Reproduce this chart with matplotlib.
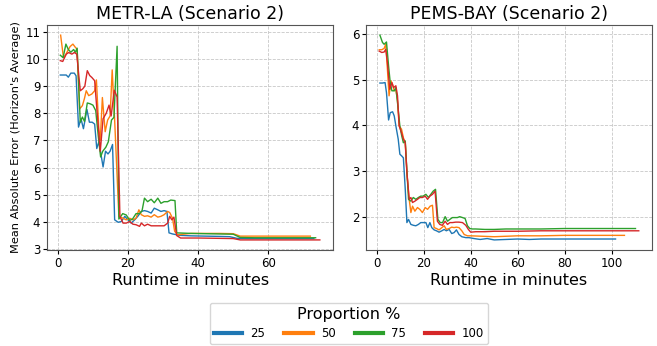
import matplotlib
matplotlib.use("Agg")
import matplotlib.pyplot as plt

props = ["25", "50", "75", "100"]
colors = ["#1f77b4", "#ff7f0e", "#2ca02c", "#d62728"]

# METR-LA runtime (min) / MAE per proportion
la_t25 = [0.7,1.5,2.4,3.0,3.7,4.7,5.2,5.9,6.6,7.3,8.3,9.0,9.8,10.5,11.1,11.7,12.9,13.6,14.3,14.9,15.6,16.2,17.2,18.1,19.1,20.0,20.9,21.9,22.8,23.8,24.7,25.6,26.6,27.5,28.5,29.4,30.3,31.1,31.7,32.7,34.6,38.0,42.0,46.0,49.0,51.0,55.0,60.0,65.0,70.0,73.0]
la_y25 = [9.41,9.41,9.41,9.33,9.48,9.48,9.38,7.49,7.80,7.43,8.14,7.67,7.67,7.60,6.70,6.95,6.02,6.60,6.50,6.60,6.85,4.07,3.98,4.01,4.20,4.07,3.95,4.07,4.20,4.38,4.41,4.38,4.32,4.50,4.44,4.38,4.41,4.38,3.59,3.55,3.50,3.48,3.47,3.46,3.45,3.39,3.38,3.38,3.38,3.38,3.38]
la_t50 = [0.8,1.6,2.2,2.8,3.5,4.3,5.0,5.5,6.2,7.0,7.6,8.1,8.8,9.7,10.5,11.0,11.7,12.1,12.7,13.5,14.2,14.9,15.5,16.2,17.4,18.6,19.5,20.5,21.4,22.3,23.1,23.8,24.7,25.6,26.6,27.5,28.5,29.4,30.3,31.3,31.9,32.7,33.3,34.1,38.0,42.0,46.0,50.0,52.0,56.0,60.0,65.0,70.0,72.0]
la_y50 = [10.88,10.06,10.15,10.30,10.46,10.55,10.43,10.36,8.16,8.28,8.55,8.83,8.65,8.71,8.83,9.23,7.40,7.00,8.58,7.32,7.75,7.90,9.60,7.75,4.20,4.13,4.07,4.13,4.07,4.13,4.44,4.26,4.20,4.22,4.17,4.26,4.17,4.20,4.26,4.38,4.34,4.13,3.65,3.52,3.57,3.57,3.57,3.56,3.47,3.47,3.47,3.47,3.47,3.47]
la_t75 = [0.7,1.5,2.3,3.0,3.7,4.5,5.0,5.5,6.4,7.0,7.6,8.4,9.2,10.0,10.8,11.5,12.2,12.8,13.7,14.4,15.3,16.0,16.9,17.4,18.5,19.5,20.5,21.3,22.3,23.3,24.0,24.7,25.6,26.6,27.5,28.5,29.4,30.3,31.3,32.2,33.4,33.9,38.0,42.0,46.0,50.0,52.0,56.0,60.0,65.0,70.0,73.5]
la_y75 = [10.14,10.05,10.55,10.35,10.25,10.35,10.25,10.40,7.67,7.86,7.70,8.38,8.35,8.30,8.10,7.20,6.39,6.60,6.75,6.95,7.75,7.85,10.47,4.10,4.30,4.25,4.05,4.10,4.30,4.30,4.40,4.87,4.74,4.83,4.70,4.87,4.68,4.74,4.74,4.80,4.78,3.59,3.57,3.56,3.55,3.54,3.42,3.41,3.41,3.41,3.41,3.41]
la_t100 = [0.7,1.4,2.4,3.1,4.0,4.7,5.4,6.4,7.1,7.7,8.4,9.1,9.7,10.5,11.1,12.1,12.9,13.8,14.6,15.2,16.1,16.9,17.7,18.6,19.5,20.5,21.4,22.3,23.3,23.8,24.7,25.6,26.6,27.5,28.5,29.4,30.3,31.3,31.9,32.5,33.1,33.9,35.0,40.0,45.0,50.0,52.0,56.0,60.0,65.0,70.0,74.7]
la_y100 = [9.94,9.91,10.18,10.24,10.18,10.24,10.18,8.83,8.90,9.00,9.57,9.39,9.32,9.20,8.20,6.60,7.80,8.00,8.30,7.90,8.85,8.60,4.20,3.95,3.95,4.01,3.91,3.89,3.83,3.95,3.85,3.91,3.85,3.85,3.85,3.85,3.85,3.95,4.20,4.07,4.17,3.49,3.40,3.40,3.39,3.38,3.33,3.33,3.33,3.33,3.33,3.33]

# PEMS-BAY runtime (min) / MAE per proportion
pb_t25 = [1.3,2.4,3.5,4.1,5.0,5.7,6.7,7.4,8.1,9.1,9.8,10.6,11.3,12.1,12.8,13.5,14.5,15.6,16.6,17.7,18.7,19.7,20.9,21.7,22.6,23.4,24.4,25.4,26.5,27.7,28.7,29.6,30.8,31.9,32.9,33.9,35.0,36.2,37.9,39.3,41.4,44.0,47.0,50.0,55.0,60.0,65.0,70.0,80.0,90.0,101.7]
pb_y25 = [4.93,4.93,4.94,4.72,4.12,4.28,4.30,4.21,3.99,3.70,3.37,3.33,3.29,2.60,1.87,1.94,1.83,1.81,1.80,1.83,1.87,1.87,1.87,1.76,1.87,1.76,1.71,1.69,1.66,1.69,1.72,1.69,1.72,1.63,1.65,1.71,1.61,1.56,1.54,1.54,1.52,1.50,1.52,1.49,1.50,1.51,1.50,1.51,1.51,1.51,1.51]
pb_t50 = [1.0,2.1,3.1,3.8,4.5,5.2,6.0,6.7,7.4,8.1,8.8,9.5,10.5,11.3,12.1,12.8,13.6,14.5,15.2,16.2,17.3,18.3,19.4,20.6,21.6,22.7,23.7,24.4,25.4,26.5,27.7,28.7,29.6,30.8,31.9,32.9,33.9,35.0,36.2,37.2,38.6,40.0,45.0,50.0,55.0,60.0,70.0,80.0,90.0,105.5]
pb_y50 = [5.66,5.66,5.69,5.78,5.23,4.65,4.98,4.90,4.76,4.79,4.54,3.99,3.92,3.73,3.62,2.97,2.45,2.09,2.23,2.12,2.20,2.16,2.09,2.20,2.16,2.23,2.25,1.76,1.74,1.71,1.76,1.80,1.72,1.74,1.77,1.76,1.77,1.76,1.69,1.61,1.58,1.58,1.57,1.56,1.57,1.58,1.58,1.59,1.59,1.59]
pb_t75 = [1.3,2.4,3.1,4.1,5.0,5.7,6.4,7.4,8.1,8.8,9.8,10.6,11.3,12.1,12.8,13.5,14.5,15.5,16.6,17.7,18.7,19.7,20.9,22.0,23.0,24.0,25.0,26.0,27.0,28.0,29.1,30.1,31.1,32.2,33.3,34.3,35.3,36.5,37.6,38.6,39.6,40.7,42.1,46.0,50.0,55.0,60.0,70.0,80.0,90.0,100.0,110.2]
pb_y75 = [5.98,5.82,5.78,5.83,5.30,4.94,4.76,4.76,4.83,4.50,3.99,3.77,3.62,3.66,3.00,2.38,2.34,2.42,2.38,2.42,2.45,2.45,2.49,2.42,2.49,2.56,2.60,1.94,1.87,1.87,2.00,1.90,1.94,1.98,1.98,1.98,2.00,1.98,1.96,1.80,1.74,1.73,1.73,1.72,1.72,1.73,1.73,1.73,1.74,1.74,1.74,1.74]
pb_t100 = [1.0,2.1,3.1,3.8,4.5,5.5,6.4,7.1,8.1,8.8,9.5,10.5,11.3,12.1,12.8,13.8,14.5,15.2,16.2,17.3,18.3,19.4,20.6,21.6,22.6,23.7,24.8,25.8,26.8,27.9,29.1,30.1,31.1,32.2,33.6,35.0,36.5,37.9,39.0,40.0,42.1,46.0,50.0,55.0,60.0,70.0,80.0,90.0,100.0,111.6]
pb_y100 = [5.63,5.60,5.61,5.67,5.38,4.79,4.94,4.83,4.87,4.65,3.99,3.84,3.70,3.62,2.97,2.38,2.42,2.31,2.34,2.38,2.42,2.42,2.45,2.38,2.45,2.49,2.56,1.90,1.83,1.81,1.90,1.83,1.87,1.87,1.88,1.88,1.87,1.81,1.72,1.66,1.67,1.67,1.68,1.68,1.68,1.69,1.69,1.69,1.69,1.69]

la = [(la_t25, la_y25), (la_t50, la_y50), (la_t75, la_y75), (la_t100, la_y100)]
pb = [(pb_t25, pb_y25), (pb_t50, pb_y50), (pb_t75, pb_y75), (pb_t100, pb_y100)]

fig, axes = plt.subplots(1, 2, figsize=(6.57, 3.46), dpi=100)
fig.subplots_adjust(left=0.072, right=0.992, bottom=0.277, top=0.928, wspace=0.117)

for ax, data, title in zip(axes, [la, pb], ["METR-LA (Scenario 2)", "PEMS-BAY (Scenario 2)"]):
    for (t, y), c, p in zip(data, colors, props):
        ax.plot(t, y, color=c, lw=1.0, label=p)
    ax.set_title(title, fontsize=12.5, pad=4)
    ax.set_xlabel("Runtime in minutes", fontsize=11.5, labelpad=2)
    ax.tick_params(labelsize=8.5, length=3, pad=2)
    ax.grid(True, linestyle="--", color="#c8c8c8", lw=0.6)
    for s in ax.spines.values():
        s.set_color("#555555")
axes[0].set_ylabel("Mean Absolute Error (Horizon's Average)", fontsize=8.2, labelpad=3)

handles, labels = axes[0].get_legend_handles_labels()
leg = fig.legend(handles, labels, loc="lower center", bbox_to_anchor=(0.531, -0.012), ncol=4,
                 title="Proportion %", title_fontsize=11.5, fontsize=8.5, handlelength=2.4,
                 columnspacing=1.6, handletextpad=0.7, borderpad=0.35, labelspacing=0.45)
for h in leg.get_lines():
    h.set_linewidth(3)

fig.savefig("out.png", dpi=100)
